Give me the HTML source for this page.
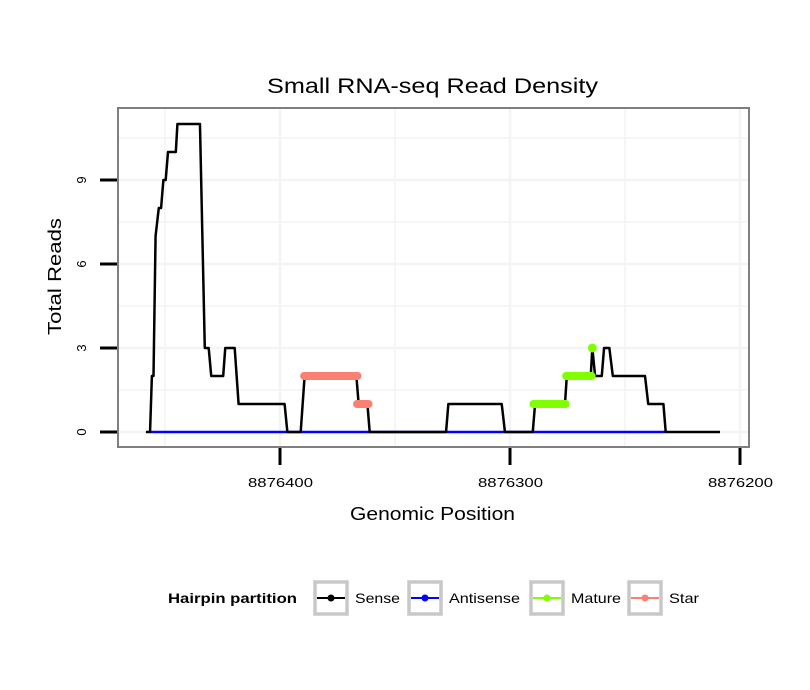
<!DOCTYPE html>
<html><head><meta charset="utf-8"><style>
html,body{margin:0;padding:0;background:#fff;}
svg{display:block;font-family:"Liberation Sans",Arial,sans-serif;}
</style></head><body>
<svg id="c" width="810" height="690">
<rect x="0" y="0" width="810" height="690" fill="#fff"/>
<text x="267" y="93" font-size="21" textLength="331" lengthAdjust="spacingAndGlyphs">Small RNA-seq Read Density</text>
<g id="grid"></g>
<g id="series"></g>
<rect x="118" y="108" width="631" height="339" fill="none" stroke="#7f7f7f" stroke-width="2"/>
<g id="axes"></g>
<text x="350" y="520" font-size="18" textLength="165" lengthAdjust="spacingAndGlyphs">Genomic Position</text>
<text transform="translate(61,335) rotate(-90)" font-size="18" textLength="117" lengthAdjust="spacingAndGlyphs">Total Reads</text>
<g id="legend"></g>
</svg>
<script>
const yTicks=[0,3,6,9];
const xTicks=[8876400,8876300,8876200];
const senseX=[8876458.3,8876456.5,8876455.7,8876455.0,8876454.1,8876452.7,8876451.7,8876450.7,8876449.7,8876448.7,8876445.3,8876444.6,8876434.8,8876432.7,8876431.0,8876429.9,8876424.7,8876423.8,8876419.7,8876418.0,8876398.0,8876396.8,8876391.0,8876389.3,8876366.8,8876365.8,8876362.0,8876361.0,8876327.8,8876326.8,8876303.6,8876302.2,8876290.1,8876289.1,8876276.1,8876275.3,8876264.9,8876264.2,8876263.0,8876260.1,8876259.1,8876256.8,8876255.3,8876241.3,8876239.9,8876233.3,8876232.3,8876208.7];
const senseY=[0,0,2,2,7,8,8,9,9,10,10,11,11,3,3,2,2,3,3,1,1,0,0,2,2,1,1,0,0,1,1,0,0,1,1,2,2,3,2,2,3,3,2,2,1,1,0,0];
const antiX=[8876456.5,8876232.3];
const antiY=[0,0];
const starSegs=[[8876389.5,8876366.3,2],[8876366.5,8876361.5,1]];
const matureSegs=[[8876289.8,8876275.8,1],[8876275.6,8876264.5,2]];
const maturePointX=[8876264.2];
const maturePointY=[3];
const legendLabels=["Sense","Antisense","Mature","Star"];
const legendColors=["#000000","#0000ff","#7fff00","#fa8072"];
const legendWidths=[45,71,50,30];

const NS="http://www.w3.org/2000/svg";
function X(p){return 280+(8876400-p)*2.3;}
function Y(v){return 432-v*28;}
function mk(t,a,parent){const e=document.createElementNS(NS,t);for(const k in a)e.setAttribute(k,a[k]);parent.appendChild(e);return e;}
const grid=document.getElementById('grid'),ser=document.getElementById('series'),axes=document.getElementById('axes'),leg=document.getElementById('legend');
[0,1.5,3,4.5,6,7.5,9,10.5].forEach(v=>{const l=mk('line',{x1:118,x2:749,y1:Y(v),y2:Y(v),stroke:'#f4f4f4','stroke-width':v%3===0?2.5:1.5},grid);

});
[8876450,8876400,8876350,8876300,8876250,8876200].forEach(p=>{const l=mk('line',{x1:X(p),x2:X(p),y1:108,y2:447,stroke:'#f4f4f4','stroke-width':p%100===0?2.5:1.5},grid);

});
let a=mk('polyline',{points:antiX.map((x,i)=>X(x)+','+Y(antiY[i])).join(' '),fill:'none',stroke:'#0000ff','stroke-width':2.5},ser);


let s=mk('polyline',{points:senseX.map((x,i)=>X(x)+','+Y(senseY[i])).join(' '),fill:'none',stroke:'#000','stroke-width':2.5,'stroke-linejoin':'round'},ser);


starSegs.forEach(d=>{const l=mk('line',{x1:X(d[0]),x2:X(d[1]),y1:Y(d[2]),y2:Y(d[2]),stroke:'#fa8072','stroke-width':8,'stroke-linecap':'round'},ser);

});
matureSegs.forEach(d=>{const l=mk('line',{x1:X(d[0]),x2:X(d[1]),y1:Y(d[2]),y2:Y(d[2]),stroke:'#7fff00','stroke-width':8,'stroke-linecap':'round'},ser);

});
maturePointX.forEach((x,i)=>{const c=mk('circle',{cx:X(x),cy:Y(maturePointY[i]),r:4.5,fill:'#7fff00'},ser);

});
yTicks.forEach(v=>{const t=mk('line',{x1:100,x2:117,y1:Y(v),y2:Y(v),stroke:'#000','stroke-width':3},axes);


const tx=mk('text',{transform:`translate(86,${Y(v)}) rotate(-90)`,'font-size':13,'text-anchor':'middle'},axes);tx.textContent=v;

});
xTicks.forEach(p=>{const t=mk('line',{x1:X(p),x2:X(p),y1:448,y2:465,stroke:'#000','stroke-width':3},axes);


const tx=mk('text',{x:X(p)-32,y:487,'font-size':13,textLength:65,lengthAdjust:'spacingAndGlyphs'},axes);tx.textContent=p;

});
const lt=mk('text',{x:168,y:603,'font-size':14,'font-weight':'bold',textLength:129,lengthAdjust:'spacingAndGlyphs'},leg);lt.textContent='Hairpin partition';


const keyX=[313,407,529,627];
legendLabels.forEach((lab,i)=>{const g=mk('g',{},leg);


mk('rect',{x:keyX[i]+2,y:582,width:32,height:32,fill:'#fff',stroke:'#c8c8c8','stroke-width':3.5},g);
mk('line',{x1:keyX[i]+4,x2:keyX[i]+32,y1:598,y2:598,stroke:legendColors[i],'stroke-width':2},g);
mk('circle',{cx:keyX[i]+18,cy:598,r:3.5,fill:legendColors[i]},g);
const t=mk('text',{x:keyX[i]+42,y:603,'font-size':14,textLength:legendWidths[i],lengthAdjust:'spacingAndGlyphs'},g);t.textContent=lab;});
</script>
</body></html>
